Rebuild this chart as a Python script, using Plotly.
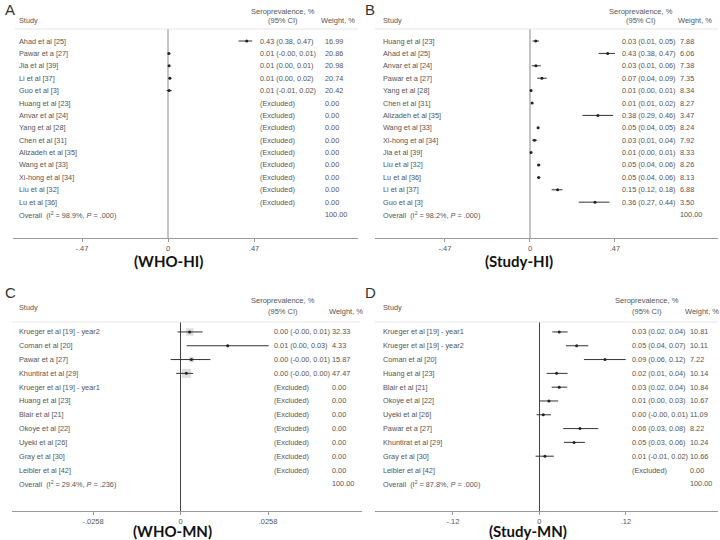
import plotly.graph_objects as go

# ---------------- DATA ----------------
# Panel A (WHO-HI)
studies_A = ["Ahad et al [25]", "Pawar et a [27]", "Jia et al [39]", "Li et al [37]", "Guo et al [3]",
             "Huang et al [23]", "Anvar et al [24]", "Yang et al [28]", "Chen et al [31]",
             "Alizadeh et al [35]", "Wang et al [33]", "Xi-hong et al [34]", "Liu et al [32]", "Lu et al [36]"]
est_A = [0.43, 0.005, 0.006, 0.01, 0.006] + [None] * 9
lo_A = [0.385, -0.002, 0.002, 0.003, -0.008] + [None] * 9
hi_A = [0.46, 0.010, 0.010, 0.018, 0.020] + [None] * 9
txt_A = ["0.43 (0.38, 0.47)", "0.01 (-0.00, 0.01)", "0.01 (0.00, 0.01)", "0.01 (0.00, 0.02)",
         "0.01 (-0.01, 0.02)"] + ["(Excluded)"] * 9
wt_A = ["16.99", "20.86", "20.98", "20.74", "20.42"] + ["0.00"] * 9
overall_A = "Overall  (I<sup>2</sup> = 98.9%, <i>P</i> = .000)"

# Panel B (Study-HI)
studies_B = ["Huang et al [23]", "Ahad et al [25]", "Anvar et al [24]", "Pawar et a [27]", "Yang et al [28]",
             "Chen et al [31]", "Alizadeh et al [35]", "Wang et al [33]", "Xi-hong et al [34]", "Jia et al [39]",
             "Liu et al [32]", "Lu et al [36]", "Li et al [37]", "Guo et al [3]"]
est_B = [0.032, 0.43, 0.033, 0.066, 0.006, 0.012, 0.376, 0.045, 0.025, 0.006, 0.048, 0.048, 0.153, 0.36]
lo_B = [0.014, 0.38, 0.010, 0.040, 0.002, 0.007, 0.29, 0.040, 0.012, 0.002, 0.040, 0.040, 0.12, 0.27]
hi_B = [0.050, 0.47, 0.060, 0.093, 0.010, 0.018, 0.46, 0.052, 0.040, 0.010, 0.058, 0.058, 0.18, 0.44]
txt_B = ["0.03 (0.01, 0.05)", "0.43 (0.38, 0.47)", "0.03 (0.01, 0.06)", "0.07 (0.04, 0.09)",
         "0.01 (0.00, 0.01)", "0.01 (0.01, 0.02)", "0.38 (0.29, 0.46)", "0.05 (0.04, 0.05)",
         "0.03 (0.01, 0.04)", "0.01 (0.00, 0.01)", "0.05 (0.04, 0.06)", "0.05 (0.04, 0.06)",
         "0.15 (0.12, 0.18)", "0.36 (0.27, 0.44)"]
wt_B = ["7.88", "6.06", "7.38", "7.35", "8.34", "8.27", "3.47", "8.24", "7.92", "8.33", "8.26", "8.13",
        "6.88", "3.50"]
overall_B = "Overall  (I<sup>2</sup> = 98.2%, <i>P</i> = .000)"

# Panel C (WHO-MN)
studies_C = ["Krueger et al [19] - year2", "Coman et al [20]", "Pawar et a [27]", "Khuntirat et al [29]",
             "Krueger et al [19] - year1", "Huang et al [23]", "Blair et al [21]", "Okoye et al [22]",
             "Uyeki et al [26]", "Gray et al [30]", "Leibler et al [42]"]
est_C = [0.0027, 0.0139, 0.0032, 0.0017] + [None] * 7
lo_C = [-0.0009, 0.0018, -0.0029, -0.0013] + [None] * 7
hi_C = [0.0065, 0.0260, 0.0088, 0.0037] + [None] * 7
txt_C = ["0.00 (-0.00, 0.01)", "0.01 (0.00, 0.03)", "0.00 (-0.00, 0.01)", "0.00 (-0.00, 0.00)"] + \
        ["(Excluded)"] * 7
wt_C = ["32.33", "4.33", "15.87", "47.47"] + ["0.00"] * 7
wnum_C = [32.33, 4.33, 15.87, 47.47] + [0] * 7
overall_C = "Overall  (I<sup>2</sup> = 29.4%, <i>P</i> = .236)"

# Panel D (Study-MN)
studies_D = ["Krueger et al [19] - year1", "Krueger et al [19] - year2", "Coman et al [20]", "Huang et al [23]",
             "Blair et al [21]", "Okoye et al [22]", "Uyeki et al [26]", "Pawar et a [27]",
             "Khuntirat et al [29]", "Gray et al [30]", "Leibler et al [42]"]
est_D = [0.0275, 0.0516, 0.0909, 0.0238, 0.0275, 0.0132, 0.0053, 0.0562, 0.048, 0.0076, None]
lo_D = [0.0178, 0.0368, 0.0617, 0.010, 0.017, 0.0007, -0.004, 0.033, 0.034, -0.0053, None]
hi_D = [0.039, 0.0677, 0.1196, 0.039, 0.0386, 0.026, 0.016, 0.0816, 0.063, 0.020, None]
txt_D = ["0.03 (0.02, 0.04)", "0.05 (0.04, 0.07)", "0.09 (0.06, 0.12)", "0.02 (0.01, 0.04)",
         "0.03 (0.02, 0.04)", "0.01 (0.00, 0.03)", "0.00 (-0.00, 0.01)", "0.06 (0.03, 0.08)",
         "0.05 (0.03, 0.06)", "0.01 (-0.01, 0.02)", "(Excluded)"]
wt_D = ["10.81", "10.11", "7.22", "10.14", "10.84", "10.67", "11.09", "8.22", "10.24", "10.66", "0.00"]
overall_D = "Overall  (I<sup>2</sup> = 87.8%, <i>P</i> = .000)"

ticks_HI = [-0.47, 0, 0.47]
ticktext_HI = ["-.47", "0", ".47"]
ticks_WHO_MN = [-0.0258, 0, 0.0258]
ticktext_WHO_MN = ["-.0258", "0", ".0258"]
ticks_ST_MN = [-0.12, 0, 0.12]
ticktext_ST_MN = ["-.12", "0", ".12"]

# ---------------- FIGURE ----------------
W, H = 720, 540
TXT = "#555555"
FONT = "Liberation Sans, Arial, sans-serif"


def px(x):
    return x / W


def py(y):
    return 1 - y / H


fig = go.Figure()
annotations = []
shapes = []

panels = [
    dict(key="", letter="A", lx=3, ly=10, title="(WHO-HI)", tx=168, ty=261,
         names=studies_A, est=est_A, lo=lo_A, hi=hi_A, txt=txt_A, wt=wt_A, overall=overall_A,
         xdom=(13, 358), ydom=(29, 238), yrange=(15.89, -0.97), xrange=(-0.847, 1.038),
         ticks=ticks_HI, ticktext=ticktext_HI, cs=17, cv=258, cw=323, hs=283, hw=338,
         hy1=11, hy2=20.5, hyS=20.5, hline=(15, 358, 29), zc="#c4c4c4", zw=2, boxes=None),
    dict(key="2", letter="B", lx=363, ly=10, title="(Study-HI)", tx=519, ty=261,
         names=studies_B, est=est_B, lo=lo_B, hi=hi_B, txt=txt_B, wt=wt_B, overall=overall_B,
         xdom=(375, 718), ydom=(29, 238), yrange=(15.89, -0.97), xrange=(-0.857, 1.04),
         ticks=ticks_HI, ticktext=ticktext_HI, cs=381, cv=620, cw=678, hs=641, hw=695,
         hy1=11, hy2=20.5, hyS=20.5, hline=(375, 718, 29), zc="#c4c4c4", zw=2, boxes=None),
    dict(key="3", letter="C", lx=3, ly=292, title="(WHO-MN)", tx=172, ty=531,
         names=studies_C, est=est_C, lo=lo_C, hi=hi_C, txt=txt_C, wt=wt_C, overall=overall_C,
         xdom=(12, 362), ydom=(322, 511), yrange=(12.97, -0.72), xrange=(-0.0497, 0.0535),
         ticks=ticks_WHO_MN, ticktext=ticktext_WHO_MN, cs=17, cv=272, cw=330, hs=283, hw=346,
         hy1=300, hy2=311, hyS=307, hline=(12, 360, 322), zc="#444444", zw=1, boxes=wnum_C),
    dict(key="4", letter="D", lx=363, ly=292, title="(Study-MN)", tx=528, ty=531,
         names=studies_D, est=est_D, lo=lo_D, hi=hi_D, txt=txt_D, wt=wt_D, overall=overall_D,
         xdom=(375, 718), ydom=(322, 511), yrange=(12.97, -0.72), xrange=(-0.228, 0.2476),
         ticks=ticks_ST_MN, ticktext=ticktext_ST_MN, cs=381, cv=630, cw=688, hs=647, hw=702,
         hy1=300, hy2=311, hyS=307, hline=(375, 718, 322), zc="#444444", zw=1, boxes=None),
]

layout_axes = {}
for p in panels:
    k = p["key"]
    xa = "x" + k
    ya = "y" + k
    n = len(p["names"])
    rows = list(range(n))
    xs, ys, ep, em = [], [], [], []
    for i in rows:
        if p["est"][i] is None:
            continue
        xs.append(p["est"][i])
        ys.append(i)
        ep.append(p["hi"][i] - p["est"][i])
        em.append(p["est"][i] - p["lo"][i])
    if p["boxes"] is not None:
        bx, by, bs = [], [], []
        for i in rows:
            if p["est"][i] is None:
                continue
            bx.append(p["est"][i])
            by.append(i)
            bs.append(1.33 * p["boxes"][i] ** 0.5)
        fig.add_trace(go.Scatter(x=bx, y=by, mode="markers", xaxis=xa, yaxis=ya,
                                 marker=dict(symbol="square", size=bs, color="#d0d0d0",
                                             line=dict(width=0)),
                                 hoverinfo="skip", showlegend=False))
    fig.add_trace(go.Scatter(x=xs, y=ys, mode="markers", xaxis=xa, yaxis=ya,
                             marker=dict(symbol="circle", size=3, color="#222222"),
                             error_x=dict(type="data", array=ep, arrayminus=em, symmetric=False,
                                          width=0, thickness=1, color="#333333"),
                             showlegend=False))

    # axes
    xname = "xaxis" + k
    yname = "yaxis" + k
    layout_axes[xname] = dict(domain=[px(p["xdom"][0]), px(p["xdom"][1])], range=list(p["xrange"]),
                              anchor=ya, showgrid=False, zeroline=True, zerolinecolor=p["zc"],
                              zerolinewidth=p["zw"], showline=True, linecolor="#999999", linewidth=1,
                              ticks="outside", ticklen=3, tickcolor="#999999",
                              tickvals=p["ticks"], ticktext=p["ticktext"],
                              tickfont=dict(size=7.5, color=TXT, family=FONT), fixedrange=True)
    layout_axes[yname] = dict(domain=[py(p["ydom"][1]), py(p["ydom"][0])], range=list(p["yrange"]),
                              anchor=xa, showgrid=False, zeroline=False, showline=False,
                              showticklabels=False, ticks="", fixedrange=True)

    # row text
    for i in rows:
        annotations.append(dict(x=px(p["cs"]), y=i, xref="paper", yref=ya, text=p["names"][i],
                                showarrow=False, xanchor="left", yanchor="middle",
                                font=dict(size=7.3, color=TXT, family=FONT)))
        annotations.append(dict(x=px(p["cv"]), y=i, xref="paper", yref=ya, text=p["txt"][i],
                                showarrow=False, xanchor="left", yanchor="middle",
                                font=dict(size=7.3, color=TXT, family=FONT)))
        annotations.append(dict(x=px(p["cw"]), y=i, xref="paper", yref=ya, text=p["wt"][i],
                                showarrow=False, xanchor="left", yanchor="middle",
                                font=dict(size=7.3, color=TXT, family=FONT)))
    annotations.append(dict(x=px(p["cs"]), y=n, xref="paper", yref=ya, text=p["overall"],
                            showarrow=False, xanchor="left", yanchor="middle",
                            font=dict(size=7.3, color=TXT, family=FONT)))
    annotations.append(dict(x=px(p["cw"]), y=n, xref="paper", yref=ya, text="100.00",
                            showarrow=False, xanchor="left", yanchor="middle",
                            font=dict(size=7.3, color=TXT, family=FONT)))
    # headers
    annotations.append(dict(x=px(p["cs"]), y=py(p["hyS"]), xref="paper", yref="paper", text="Study",
                            showarrow=False, xanchor="left", yanchor="middle",
                            font=dict(size=7.3, color=TXT, family=FONT)))
    annotations.append(dict(x=px(p["hs"]), y=py(p["hy1"]), xref="paper", yref="paper",
                            text="Seroprevalence, %", showarrow=False, xanchor="center", yanchor="middle",
                            font=dict(size=7.5, color=TXT, family=FONT)))
    annotations.append(dict(x=px(p["hs"]), y=py(p["hy2"]), xref="paper", yref="paper",
                            text="(95% CI)", showarrow=False, xanchor="center", yanchor="middle",
                            font=dict(size=7.5, color=TXT, family=FONT)))
    annotations.append(dict(x=px(p["hw"]), y=py(p["hy2"]), xref="paper", yref="paper",
                            text="Weight, %", showarrow=False, xanchor="center", yanchor="middle",
                            font=dict(size=7.5, color=TXT, family=FONT)))
    # panel letter
    annotations.append(dict(x=px(p["lx"]), y=py(p["ly"]), xref="paper", yref="paper", text=p["letter"],
                            showarrow=False, xanchor="left", yanchor="middle",
                            font=dict(size=15, color="#333333", family=FONT)))
    # title
    annotations.append(dict(x=px(p["tx"]), y=py(p["ty"]), xref="paper", yref="paper",
                            text="<b>" + p["title"] + "</b>",
                            showarrow=False, xanchor="center", yanchor="middle",
                            font=dict(size=15, color="#111111", family="Lato, Liberation Sans, sans-serif")))
    # header separator
    x0, x1, yl = p["hline"]
    shapes.append(dict(type="line", xref="paper", yref="paper", x0=px(x0), x1=px(x1),
                       y0=py(yl), y1=py(yl), line=dict(color="#e6e6e6", width=1)))

fig.update_layout(width=W, height=H, margin=dict(l=0, r=0, t=0, b=0),
                  paper_bgcolor="white", plot_bgcolor="white", showlegend=False,
                  annotations=annotations, shapes=shapes, **layout_axes)

fig.write_html("out.html", config={"displayModeBar": False},
               post_script="document.body.style.margin='0px';document.body.style.overflow='hidden';")
